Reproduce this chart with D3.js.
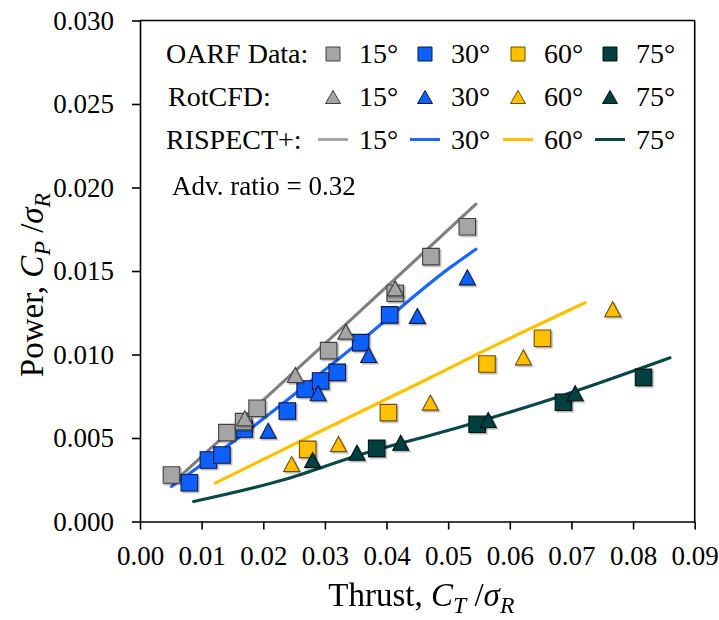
<!DOCTYPE html>
<html lang="en">
<head>
<meta charset="UTF-8">
<title>Power vs Thrust</title>
<style>
  body { margin: 0; background: #fff; }
  svg { display: block; font-family: "Liberation Serif", "Times New Roman", serif; }
</style>
<script src="https://d3js.org/d3.v7.min.js"></script>
</head>
<body>
<svg id="chart" width="719" height="620"></svg>
<script>
// series data: [C_T/sigma, C_P/sigma]
const angles = ["15°", "30°", "60°", "75°"];
const colors = ["#a5a5a5", "#1060ff", "#ffc000", "#003f3f"];
const lineColors = ["#808080", "#1a66ff", "#ffc000", "#0a4848"];
const strokeColors = ["#404040", "#0a1a40", "#6b5000", "#001515"];

const oarf15 = [[0.0051,0.00278],[0.0141,0.00532],[0.0168,0.00598],[0.0190,0.00678],[0.0306,0.01023],[0.0414,0.01367],[0.0472,0.01586],[0.0531,0.01765]];
const oarf30 = [[0.0080,0.00232],[0.0111,0.00368],[0.0133,0.00398],[0.0169,0.00554],[0.0239,0.00662],[0.0268,0.00793],[0.0293,0.00841],[0.0320,0.00893],[0.0358,0.01071],[0.0405,0.01237]];
const oarf60 = [[0.0272,0.00432],[0.0403,0.00652],[0.0563,0.00943],[0.0653,0.01097]];
const oarf75 = [[0.0384,0.00438],[0.0547,0.00582],[0.0687,0.00714],[0.0817,0.00863]];

const cfd15 = [[0.0170,0.00618],[0.0252,0.00877],[0.0334,0.01137],[0.0414,0.01396]];
const cfd30 = [[0.0208,0.00544],[0.0289,0.00768],[0.0371,0.00997],[0.0450,0.01231],[0.0531,0.01462]];
const cfd60 = [[0.0246,0.00344],[0.0322,0.00464],[0.0471,0.00712],[0.0622,0.00983],[0.0767,0.01271]];
const cfd75 = [[0.0280,0.00368],[0.0352,0.00412],[0.0423,0.00472],[0.0565,0.00608],[0.0706,0.00768]];

const risp15 = [[0.0065,0.0027],[0.0334,0.0118],[0.0545,0.0190]];
const risp30 = [[0.0051,0.0021],[0.0170,0.0053],[0.0358,0.0108],[0.0503,0.0152],[0.0545,0.0163]];
const risp60 = [[0.0122,0.0023],[0.0287,0.0053],[0.0465,0.0085],[0.0546,0.0100],[0.0722,0.0131]];
const risp75 = [[0.0087,0.0012],[0.0233,0.0025],[0.0357,0.0040],[0.0514,0.0056],[0.0682,0.0075],[0.0860,0.0098]];

const xTicks = [0, 0.01, 0.02, 0.03, 0.04, 0.05, 0.06, 0.07, 0.08, 0.09];
const yTicks = [0, 0.005, 0.010, 0.015, 0.020, 0.025, 0.030];

const oarf = [oarf15, oarf30, oarf60, oarf75];
const cfd = [cfd15, cfd30, cfd60, cfd75];
const risp = [risp15, risp30, risp60, risp75];

const svg = d3.select("#chart");
const plotLeft = 140, plotRight = 694.7, plotTop = 20.5, plotBottom = 521.5;

const x = d3.scaleLinear().domain([0, 0.09]).range([plotLeft, plotRight]);
const y = d3.scaleLinear().domain([0, 0.03]).range([plotBottom, plotTop]);

// drop shadow like the spreadsheet markers
const defs = svg.append("defs");
defs.append("filter").attr("id", "shadow")
  .attr("x", "-30%").attr("y", "-30%").attr("width", "160%").attr("height", "160%")
  .append("feDropShadow")
  .attr("dx", 1.5).attr("dy", 1.5).attr("stdDeviation", 0.7)
  .attr("flood-color", "#000").attr("flood-opacity", 0.3);

// axes
const xAxis = svg.append("g")
  .attr("transform", `translate(0,${plotBottom})`)
  .call(d3.axisBottom(x).tickValues(xTicks).tickFormat(d3.format(".2f"))
    .tickSize(8).tickSizeOuter(0).tickPadding(16));
const yAxis = svg.append("g")
  .attr("transform", `translate(${plotLeft},0)`)
  .call(d3.axisLeft(y).tickValues(yTicks).tickFormat(d3.format(".3f"))
    .tickSize(8).tickSizeOuter(0).tickPadding(18));

[xAxis, yAxis].forEach(a => {
  a.selectAll("path, line").attr("stroke", "#000").attr("stroke-width", 1.6);
  a.selectAll("text").attr("font-size", 27).attr("fill", "#000")
    .attr("font-family", "'Liberation Serif', 'Times New Roman', serif");
});

// top and right frame
svg.append("line").attr("x1", plotLeft).attr("x2", plotRight).attr("y1", plotTop).attr("y2", plotTop)
  .attr("stroke", "#000").attr("stroke-width", 1.6);
svg.append("line").attr("x1", plotRight).attr("x2", plotRight).attr("y1", plotTop).attr("y2", plotBottom)
  .attr("stroke", "#000").attr("stroke-width", 1.6);

// RISPECT+ lines
const line = d3.line().x(d => x(d[0])).y(d => y(d[1])).curve(d3.curveMonotoneX);
risp.forEach((s, i) => {
  svg.append("path").datum(s).attr("d", line)
    .attr("fill", "none").attr("stroke", lineColors[i]).attr("stroke-width", 3.2)
    .attr("stroke-linecap", "round");
});

// marker shapes
function squarePath(s) {
  const h = s / 2;
  return `M${-h},${-h}H${h}V${h}H${-h}Z`;
}
function trianglePath(w, hgt) {
  return `M0,${-hgt / 2}L${w / 2},${hgt / 2}L${-w / 2},${hgt / 2}Z`;
}

// OARF squares (gray drawn last)
[1, 2, 3, 0].forEach(i => {
  svg.append("g").attr("filter", "url(#shadow)")
    .selectAll("path").data(oarf[i]).join("path")
    .attr("transform", d => `translate(${x(d[0])},${y(d[1])})`)
    .attr("d", squarePath(16.5))
    .attr("fill", colors[i]).attr("stroke", strokeColors[i]).attr("stroke-width", 1.1);
});

// RotCFD triangles
[1, 2, 3, 0].forEach(i => {
  svg.append("g").attr("filter", "url(#shadow)")
    .selectAll("path").data(cfd[i]).join("path")
    .attr("transform", d => `translate(${x(d[0])},${y(d[1])})`)
    .attr("d", trianglePath(16, 15))
    .attr("fill", colors[i]).attr("stroke", strokeColors[i]).attr("stroke-width", 1.1);
});

// legend
const legendFont = 28;
const rowY = [63, 106, 149];
const markX = [333, 425, 518, 610];
const labelX = [359, 451, 544, 636];
const rowTitles = [["OARF Data:", 166], ["RotCFD:", 168], ["RISPECT+:", 166]];

const lg = svg.append("g").attr("font-size", legendFont).attr("fill", "#000");
rowTitles.forEach((r, k) => {
  lg.append("text").attr("x", r[1]).attr("y", rowY[k]).text(r[0]);
});
angles.forEach((a, i) => {
  rowY.forEach((ry, k) => {
    lg.append("text").attr("x", labelX[i]).attr("y", ry).text(a);
  });
  lg.append("path").attr("transform", `translate(${markX[i]},${rowY[0] - 9})`)
    .attr("d", squarePath(14)).attr("fill", colors[i])
    .attr("stroke", strokeColors[i]).attr("stroke-width", 1);
  lg.append("path").attr("transform", `translate(${markX[i]},${rowY[1] - 9})`)
    .attr("d", trianglePath(15, 13)).attr("fill", colors[i])
    .attr("stroke", strokeColors[i]).attr("stroke-width", 1);
  lg.append("line")
    .attr("x1", markX[i] - 15).attr("x2", markX[i] + 15)
    .attr("y1", rowY[2] - 9.5).attr("y2", rowY[2] - 9.5)
    .attr("stroke", i === 0 ? "#a6a6a6" : lineColors[i]).attr("stroke-width", 3);
});
lg.append("text").attr("x", 172).attr("y", 195).attr("font-size", 27).text("Adv. ratio = 0.32");

// axis titles with math parts
function mathTitle(sel, word, sym, sub1, sub2) {
  sel.append("tspan").text(word + " ");
  sel.append("tspan").attr("font-style", "italic").text(sym);
  sel.append("tspan").attr("font-style", "italic").attr("font-size", "72%").attr("dy", 7).text(sub1);
  sel.append("tspan").attr("dy", -7).text(" /");
  sel.append("tspan").attr("font-style", "italic").text("σ");
  sel.append("tspan").attr("font-style", "italic").attr("font-size", "72%").attr("dy", 7).text(sub2);
}

const xt = svg.append("text").attr("x", (plotLeft + plotRight) / 2 + 4).attr("y", 606)
  .attr("text-anchor", "middle").attr("font-size", 33).attr("fill", "#000");
mathTitle(xt, "Thrust,", "C", "T", "R");

const yt = svg.append("text")
  .attr("transform", `translate(43,${(plotTop + plotBottom) / 2 + 14}) rotate(-90)`)
  .attr("text-anchor", "middle").attr("font-size", 33).attr("fill", "#000");
mathTitle(yt, "Power,", "C", "P", "R");
</script>
</body>
</html>
